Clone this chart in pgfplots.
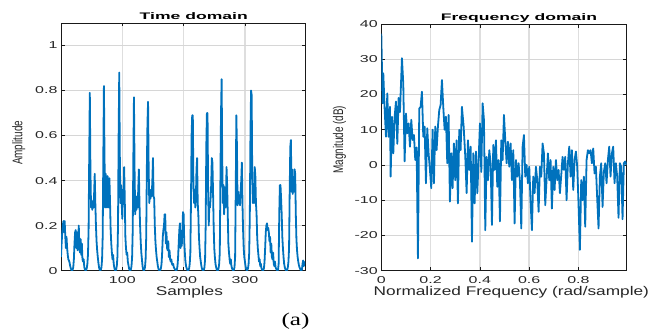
\documentclass[border=0pt]{standalone}
\usepackage{fontspec}
\setmainfont{Liberation Sans}
\newfontfamily\tickfont{Liberation Sans}[FakeStretch=1.6]
\newfontfamily\labfont{Liberation Sans}[FakeStretch=1.37]
\newfontfamily\ylabfont{Liberation Sans}[FakeStretch=0.71]
\newfontfamily\titfont{Liberation Sans Bold}[FakeStretch=1.85]
\newfontfamily\capfont{Liberation Serif}[FakeStretch=1.4]
\usepackage{pgfplots}
\pgfplotsset{compat=1.18}
\definecolor{mblue}{RGB}{0,114,189}
\pgfplotsset{mstyle/.style={
  scale only axis,
  enlargelimits=false,
  axis line style={black!90, line width=0.9pt},
  tick style={black!90, line width=0.7pt},
  major tick length=3.5pt,
  tick align=inside,
  grid=major,
  x grid style={line width=1.4pt, color=black!13},
  y grid style={line width=0.7pt, color=black!16},
  ticklabel style={font=\tickfont\fontsize{10}{10}\selectfont, text=black!85},
  xticklabel shift=2pt,
  /pgf/number format/assume math mode=true,
  every axis x label/.style={at={(axis description cs:#1,0)}, anchor=base, yshift=-24.4pt, font=\labfont\fontsize{12.6}{13}\selectfont, text=black!85},
  every axis title/.style={at={(axis description cs:0.55,1)}, anchor=base, yshift=3.7pt, font=\titfont\fontsize{9.5}{10}\selectfont},
}}
\begin{document}
\begin{tikzpicture}
\useasboundingbox (0,0) rectangle (668pt,332pt);
\begin{axis}[mstyle=0.526,
  at={(61pt,61.4pt)}, anchor=south west, width=244pt, height=247.6pt,
  xmin=0, xmax=398, ymin=0, ymax=1.1,
  xtick={100,200,300}, ytick={0,0.2,0.4,0.6,0.8,1},
  title={Time domain},
  every axis title/.append style={at={(axis description cs:0.544,1)}},
  xlabel={Samples},
  ylabel={Amplitude},
  every axis y label/.style={at={(axis description cs:-0.1586,0.516)}, rotate=90, anchor=base, font=\ylabfont\fontsize{14}{14}\selectfont, text=black!85},
]
\addplot[mblue, line width=1.8pt, line join=round] table {
n v
0 0.06
1 0.12
2 0.17
3 0.20
4 0.22
5 0.17
6 0.22
7 0.15
8 0.10
9 0.15
10 0.10
11 0.07
12 0.05
13 0.045
14 0.035
15 0.02
16 0.01
17 0.003
18 0.0
19 0.004
20 0.015
21 0.05
22 0.12
23 0.17
24 0.18
25 0.10
26 0.17
27 0.09
28 0.13
29 0.20
30 0.10
31 0.08
32 0.14
33 0.07
34 0.12
35 0.05
36 0.04
37 0.05
38 0.015
39 0.005
40 0.0
41 0.003
42 0.01
43 0.03
44 0.07
45 0.18
46 0.50
47 0.79
48 0.45
49 0.28
50 0.31
51 0.27
52 0.30
53 0.28
54 0.34
55 0.43
56 0.30
57 0.20
58 0.13
59 0.09
60 0.06
61 0.035
62 0.015
63 0.004
64 0.0
65 0.004
66 0.015
67 0.05
68 0.15
69 0.50
70 0.82
71 0.50
72 0.28
73 0.43
74 0.30
75 0.28
76 0.42
77 0.30
78 0.28
79 0.41
80 0.30
81 0.18
82 0.12
83 0.08
84 0.05
85 0.07
86 0.03
87 0.012
88 0.002
89 0.0
90 0.005
91 0.02
92 0.06
93 0.20
94 0.60
95 0.88
96 0.50
97 0.30
98 0.38
99 0.30
100 0.23
101 0.36
102 0.30
103 0.46
104 0.32
105 0.15
106 0.10
107 0.07
108 0.08
109 0.04
110 0.025
111 0.01
112 0.002
113 0.0
114 0.005
115 0.02
116 0.06
117 0.18
118 0.50
119 0.77
120 0.45
121 0.25
122 0.30
123 0.27
124 0.33
125 0.28
126 0.36
127 0.45
128 0.30
129 0.20
130 0.13
131 0.08
132 0.05
133 0.02
134 0.005
135 0.0
136 0.004
137 0.015
138 0.05
139 0.15
140 0.45
141 0.65
142 0.75
143 0.45
144 0.30
145 0.35
146 0.32
147 0.36
148 0.33
149 0.40
150 0.50
151 0.33
152 0.32
153 0.20
154 0.13
155 0.09
156 0.06
157 0.04
158 0.02
159 0.008
160 0.002
161 0.0
162 0.003
163 0.01
164 0.03
165 0.08
166 0.15
167 0.18
168 0.20
169 0.25
170 0.25
171 0.12
172 0.17
173 0.10
174 0.09
175 0.13
176 0.06
177 0.09
178 0.05
179 0.04
180 0.05
181 0.03
182 0.025
183 0.03
184 0.015
185 0.01
186 0.005
187 0.002
188 0.0
189 0.005
190 0.02
191 0.06
192 0.12
193 0.18
194 0.21
195 0.10
196 0.14
197 0.11
198 0.18
199 0.26
200 0.25
201 0.13
202 0.08
203 0.04
204 0.02
205 0.01
206 0.003
207 0.0
208 0.003
209 0.01
210 0.03
211 0.08
212 0.30
213 0.60
214 0.69
215 0.69
216 0.38
217 0.30
218 0.36
219 0.28
220 0.32
221 0.45
222 0.50
223 0.30
224 0.25
225 0.15
226 0.10
227 0.06
228 0.04
229 0.02
230 0.008
231 0.002
232 0.0
233 0.004
234 0.015
235 0.05
236 0.20
237 0.55
238 0.70
239 0.70
240 0.35
241 0.20
242 0.30
243 0.28
244 0.32
245 0.38
246 0.50
247 0.48
248 0.35
249 0.20
250 0.10
251 0.06
252 0.03
253 0.015
254 0.005
255 0.0
256 0.002
257 0.01
258 0.03
259 0.08
260 0.40
261 0.70
262 0.85
263 0.50
264 0.30
265 0.38
266 0.25
267 0.37
268 0.28
269 0.30
270 0.46
271 0.38
272 0.25
273 0.12
274 0.08
275 0.05
276 0.03
277 0.05
278 0.02
279 0.01
280 0.003
281 0.0
282 0.004
283 0.015
284 0.06
285 0.35
286 0.69
287 0.55
288 0.29
289 0.35
290 0.31
291 0.32
292 0.29
293 0.35
294 0.40
295 0.48
296 0.30
297 0.18
298 0.10
299 0.06
300 0.04
301 0.02
302 0.008
303 0.0
304 0.003
305 0.01
306 0.03
307 0.08
308 0.25
309 0.60
310 0.80
311 0.78
312 0.40
313 0.30
314 0.38
315 0.30
316 0.46
317 0.42
318 0.30
319 0.25
320 0.15
321 0.10
322 0.07
323 0.04
324 0.05
325 0.02
326 0.03
327 0.01
328 0.004
329 0.0
330 0.003
331 0.01
332 0.04
333 0.10
334 0.17
335 0.20
336 0.21
337 0.18
338 0.19
339 0.17
340 0.13
341 0.15
342 0.08
343 0.12
344 0.06
345 0.05
346 0.08
347 0.03
348 0.02
349 0.04
350 0.015
351 0.008
352 0.003
353 0.0
354 0.003
355 0.03
356 0.25
357 0.38
358 0.38
359 0.32
360 0.25
361 0.15
362 0.10
363 0.06
364 0.03
365 0.015
366 0.006
367 0.001
368 0.0
369 0.004
370 0.015
371 0.04
372 0.10
373 0.35
374 0.55
375 0.58
376 0.35
377 0.45
378 0.34
379 0.40
380 0.35
381 0.45
382 0.43
383 0.25
384 0.14
385 0.09
386 0.06
387 0.04
388 0.025
389 0.015
390 0.008
391 0.003
392 0.0
393 0.005
394 0.03
395 0.045
396 0.02
397 0.035
398 0.04
};
\end{axis}
\begin{axis}[mstyle=0.53,
  at={(381.3pt,61.3pt)}, anchor=south west, width=245.4pt, height=246.7pt,
  xmin=0, xmax=0.996, ymin=-30, ymax=40,
  xtick={0,0.2,0.4,0.6,0.8}, ytick={-30,-20,-10,0,10,20,30,40},
  title={Frequency domain},
  every axis title/.append style={at={(axis description cs:0.561,1)}},
  xlabel={Normalized Frequency (rad/sample)},
  ylabel={Magnitude (dB)},
  every axis y label/.style={at={(axis description cs:-0.156,0.531)}, rotate=90, anchor=base, font=\ylabfont\fontsize{14}{14}\selectfont, text=black!85},
]
\addplot[mblue, line width=1.8pt, line join=round] table {
f v
0.0000 37.3
0.0054 17.5
0.0081 26.0
0.0135 16.0
0.0189 8.0
0.0243 20.3
0.0297 8.0
0.0352 16.5
0.0379 -3.3
0.0433 13.7
0.0487 3.3
0.0541 13.7
0.0595 18.0
0.0649 6.0
0.0703 19.0
0.0757 15.0
0.0838 30.3
0.0892 23.0
0.0946 1.0
0.1000 14.6
0.1055 9.0
0.1109 11.8
0.1163 5.2
0.1217 12.8
0.1271 7.1
0.1325 8.5
0.1379 1.4
0.1433 5.0
0.1487 -26.5
0.1541 16.0
0.1595 16.5
0.1649 20.8
0.1704 8.0
0.1758 10.9
0.1812 -5.2
0.1866 10.4
0.1920 3.3
0.1974 -1.4
0.2028 -6.6
0.2082 10.0
0.2136 -5.2
0.2190 10.9
0.2244 4.2
0.2298 10.9
0.2352 15.6
0.2407 17.0
0.2461 24.1
0.2515 16.5
0.2569 10.0
0.2623 13.7
0.2677 0.5
0.2731 14.2
0.2785 -10.4
0.2839 3.3
0.2893 -6.6
0.2947 6.1
0.3001 -4.3
0.3056 7.0
0.3110 -10.9
0.3164 10.0
0.3218 4.2
0.3272 16.5
0.3342 10.9
0.3409 2.3
0.3463 -8.0
0.3517 7.0
0.3571 -1.4
0.3626 5.2
0.3680 -21.8
0.3734 3.3
0.3788 -10.9
0.3842 3.8
0.3896 -8.0
0.3950 1.4
0.4004 11.8
0.4058 -2.0
0.4112 17.5
0.4166 12.8
0.4220 -18.5
0.4274 2.3
0.4329 -4.3
0.4383 4.2
0.4437 0.5
0.4491 -17.0
0.4545 5.7
0.4599 -1.4
0.4653 7.0
0.4707 -6.2
0.4761 1.4
0.4815 -16.0
0.4869 7.0
0.4923 1.4
0.4978 14.2
0.5032 7.0
0.5086 0.5
0.5140 6.6
0.5194 -0.5
0.5248 6.1
0.5302 -4.3
0.5356 4.2
0.5410 -16.6
0.5464 1.4
0.5518 -3.3
0.5572 0.5
0.5627 -4.7
0.5681 -18.0
0.5735 5.2
0.5789 8.5
0.5843 -3.3
0.5897 0.0
0.5951 -5.2
0.6005 -0.5
0.6059 -10.4
0.6113 -18.5
0.6167 -3.3
0.6221 -8.0
0.6276 -0.5
0.6330 -4.3
0.6384 -13.3
0.6438 -0.5
0.6492 -3.3
0.6546 6.1
0.6600 3.3
0.6654 -11.4
0.6762 3.3
0.6816 -4.3
0.6870 1.4
0.6924 -12.4
0.6979 -0.5
0.7033 -7.1
0.7087 1.4
0.7141 -4.3
0.7195 -1.4
0.7249 -8.0
0.7303 -2.9
0.7357 2.3
0.7411 -1.4
0.7465 2.3
0.7519 -10.0
0.7573 0.5
0.7628 5.2
0.7682 -3.3
0.7736 4.2
0.7790 -7.1
0.7844 1.4
0.7898 3.8
0.7952 -0.5
0.8006 -11.4
0.8060 -24.1
0.8114 -4.3
0.8168 -10.0
0.8222 -3.3
0.8276 -17.5
0.8331 1.4
0.8385 4.2
0.8439 3.3
0.8493 4.2
0.8547 0.5
0.8601 4.7
0.8655 -2.4
0.8709 -0.5
0.8763 -9.6
0.8817 -18.0
0.8871 -3.3
0.8925 0.5
0.8980 -11.9
0.9034 -1.9
0.9088 0.5
0.9142 -5.2
0.9196 1.4
0.9250 5.2
0.9304 -3.3
0.9358 3.3
0.9412 5.2
0.9466 -5.2
0.9520 0.5
0.9574 -3.3
0.9628 -15.0
0.9683 0.5
0.9737 -0.5
0.9791 -15.4
0.9845 0.5
0.9899 1.0
0.9953 0.0
};
\end{axis}
\node[font=\capfont\fontsize{18}{18}\selectfont, anchor=base] at (295.5pt,6.8pt) {(a)};
\end{tikzpicture}
\end{document}
